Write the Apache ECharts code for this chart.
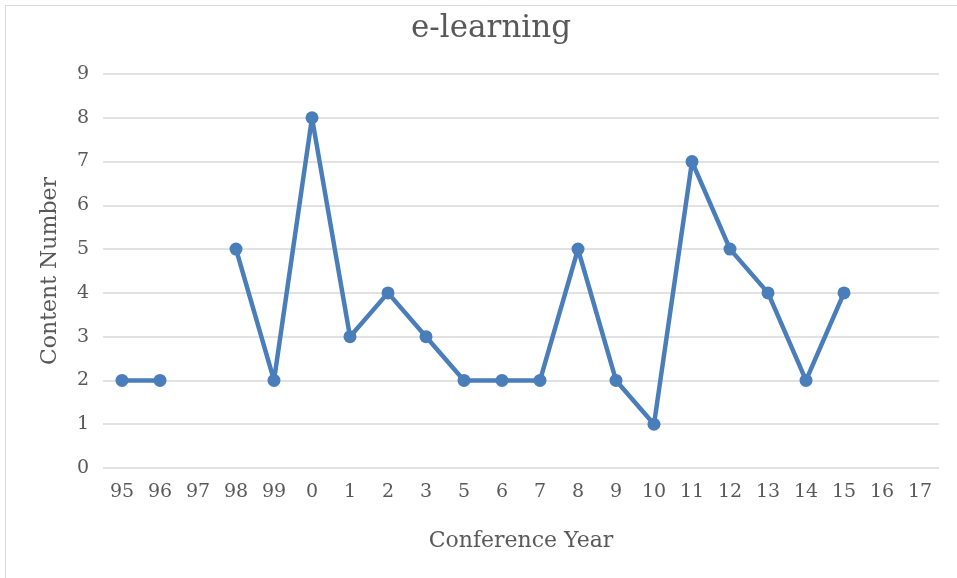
<!DOCTYPE html>
<html>
<head>
<meta charset="utf-8">
<script src="https://cdn.jsdelivr.net/npm/echarts@6/dist/echarts.min.js"></script>
<style>
  html, body { margin: 0; padding: 0; background: #fff; }
  #chart { width: 957px; height: 578px; }
</style>
</head>
<body>
<div id="chart"></div>
<script>
// conference years (no 4 in the source)
const years = ['95', '96', '97', '98', '99', '0', '1', '2', '3', '5', '6', '7', '8', '9', '10', '11', '12', '13', '14', '15', '16', '17'];
const contentNumber = [2, 2, null, 5, 2, 8, 3, 4, 3, 2, 2, 2, 5, 2, 1, 7, 5, 4, 2, 4, null, null];

const textColor = '#595959';
const serif = '"DejaVu Serif", "Liberation Serif", serif';

const chart = echarts.init(document.getElementById('chart'));

const option = {
  backgroundColor: '#fff',
  animation: false,
  title: {
    text: 'e-learning',
    left: 406,
    top: 8,
    textStyle: { fontFamily: serif, fontSize: 31, fontWeight: 'normal', color: textColor }
  },
  graphic: [{
    type: 'rect',
    shape: { x: 5.5, y: 5.5, width: 960, height: 600 },
    style: { fill: 'none', stroke: '#d9d9d9', lineWidth: 1 },
    silent: true
  }],
  grid: { left: 103, right: 18, top: 74, bottom: 110 },
  xAxis: {
    type: 'category',
    data: years,
    boundaryGap: true,
    name: 'Conference Year',
    nameLocation: 'middle',
    nameGap: 62,
    nameTextStyle: { fontFamily: serif, fontSize: 22, color: textColor },
    axisLine: { show: false },
    axisTick: { show: false },
    axisLabel: { fontFamily: serif, fontSize: 19, color: textColor, margin: 15, interval: 0 }
  },
  yAxis: {
    type: 'value',
    min: 0,
    max: 9,
    interval: 1,
    name: 'Content Number',
    nameLocation: 'middle',
    nameGap: 42,
    nameTextStyle: { fontFamily: serif, fontSize: 22, color: textColor },
    axisLine: { show: false },
    axisTick: { show: false },
    axisLabel: { fontFamily: serif, fontSize: 19, color: textColor, margin: 14 },
    splitLine: { lineStyle: { color: '#d9d9d9', width: 1.5 } }
  },
  series: [{
    name: 'e-learning',
    type: 'line',
    data: contentNumber,
    connectNulls: false,
    symbol: 'circle',
    symbolSize: 13,
    lineStyle: { color: '#4a7ebb', width: 4.5 },
    itemStyle: { color: '#4a7ebb' }
  }]
};

chart.setOption(option);
</script>
</body>
</html>
